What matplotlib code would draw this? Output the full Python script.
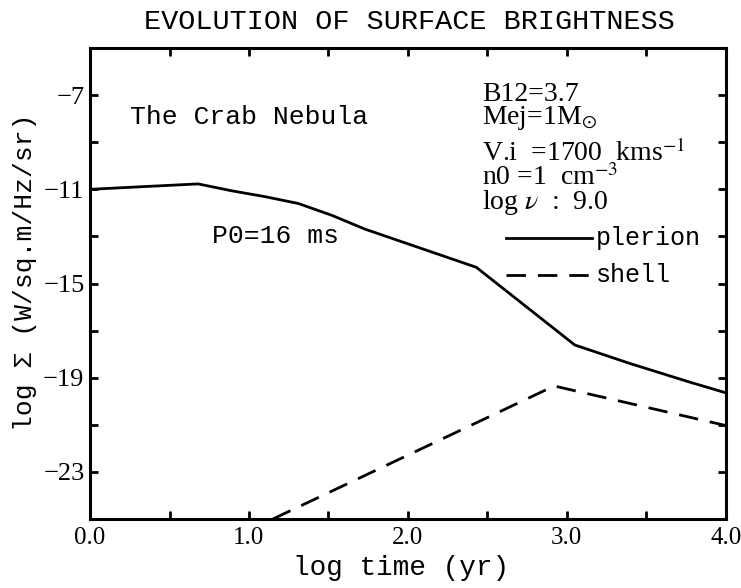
import matplotlib
matplotlib.use("Agg")
import matplotlib.pyplot as plt

# ---- data ----
plerion_x = [0.0, 0.35, 0.68, 0.89, 1.10, 1.31, 1.52, 1.73, 2.43, 3.05, 3.39, 3.77, 4.0]
plerion_y = [-11.0, -10.88, -10.77, -11.06, -11.31, -11.60, -12.10, -12.69, -14.31, -17.61, -18.38, -19.18, -19.64]

shell_x = [1.15, 2.92, 4.0]
shell_y = [-25.0, -19.35, -21.03]

xticks_major = [0.0, 1.0, 2.0, 3.0, 4.0]
xtick_labels = ["0.0", "1.0", "2.0", "3.0", "4.0"]
xticks_minor = [0.5, 1.5, 2.5, 3.5]
yticks_major = [-7, -11, -15, -19, -23]
ytick_labels = ["\u22127", "\u221211", "\u221215", "\u221219", "\u221223"]
yticks_minor = [-9, -13, -17, -21]

param_block1 = "B12=3.7\nMej=1M$_{\\odot}$"
param_block2 = "V.i  =1700  kms$^{-1}$\nn0 =1  cm$^{-3}$\nlog $\\nu$  :  9.0"

plt.rcParams['mathtext.fontset'] = 'stix'
MONO = ['Liberation Mono', 'DejaVu Sans Mono']
SERIF = ['Liberation Serif', 'DejaVu Serif']

fig = plt.figure(figsize=(7.41, 5.88), dpi=100)
ax = fig.add_axes([0.1215, 0.1173, 0.858, 0.801])

ax.plot(plerion_x, plerion_y, color='black', lw=2.0, solid_joinstyle='miter')
ax.plot(shell_x, shell_y, color='black', lw=2.0, dashes=(7, 4.3), clip_on=True)

ax.set_xlim(0, 4)
ax.set_ylim(-25, -5)

ax.set_xticks(xticks_major)
ax.set_xticklabels(xtick_labels, fontfamily=SERIF, fontsize=18)
ax.set_xticks(xticks_minor, minor=True)
ax.set_yticks(yticks_major)
ax.set_yticklabels(ytick_labels, fontfamily=SERIF, fontsize=19)
ax.set_yticks(yticks_minor, minor=True)

ax.tick_params(which='both', direction='in', top=True, right=True,
               length=6, width=2, color='black')
ax.tick_params(axis='x', which='major', pad=6)
ax.tick_params(axis='y', which='major', pad=4)

for s in ax.spines.values():
    s.set_linewidth(2.2)

# texts
fig.text(0.552, 0.963, "EVOLUTION OF SURFACE BRIGHTNESS", ha='center', va='center',
         fontfamily=MONO, fontsize=20.5)
fig.text(0.541, 0.034, "log time (yr)", ha='center', va='center',
         fontfamily=MONO, fontsize=20)
fig.text(0.034, 0.537, "log \u03a3 (W/sq.m/Hz/sr)", ha='center', va='center',
         rotation=90, fontfamily=MONO, fontsize=19)

ax.text(0.25, -7.93, "The Crab Nebula", ha='left', va='center',
        fontfamily=MONO, fontsize=19)
ax.text(0.77, -12.98, "P0=16 ms", ha='left', va='center',
        fontfamily=MONO, fontsize=19)

ax.text(2.465, -6.45, param_block1, ha='left', va='top', fontfamily=SERIF,
        fontsize=20, linespacing=0.85)
ax.text(2.465, -8.9, param_block2, ha='left', va='top', fontfamily=SERIF,
        fontsize=20, linespacing=0.85)

# legend drawn manually
ax.plot([2.62, 3.16], [-13.07, -13.07], color='black', lw=2.0)
ax.text(3.18, -13.07, "plerion", ha='left', va='center', fontfamily=MONO, fontsize=18)
ax.plot([2.62, 3.16], [-14.64, -14.64], color='black', lw=2.0, dashes=(7, 4.3))
ax.text(3.18, -14.64, "shell", ha='left', va='center', fontfamily=MONO, fontsize=18)

fig.savefig("out.png", dpi=100)
